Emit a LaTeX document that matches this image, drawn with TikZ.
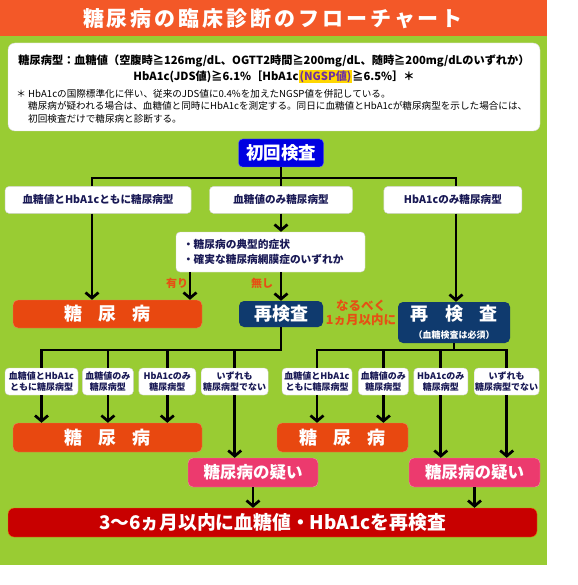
\documentclass[tikz,border=0pt]{standalone}
\usepackage{fontspec}
\setmainfont{Noto Sans CJK JP}
\usepackage{xcolor}
\usetikzlibrary{arrows.meta, positioning, calc}

\definecolor{headorange}{RGB}{243,88,40}
\definecolor{bggreen}{RGB}{153,204,51}
\definecolor{textnavy}{RGB}{25,25,85}
\definecolor{startblue}{RGB}{0,0,225}
\definecolor{dmorange}{RGB}{232,72,16}
\definecolor{renavy}{RGB}{15,58,110}
\definecolor{susppink}{RGB}{236,58,110}
\definecolor{bardred}{RGB}{200,0,0}
\definecolor{lblorange}{RGB}{230,80,20}
\definecolor{hiyellow}{RGB}{255,215,0}
\definecolor{ngsppurple}{RGB}{112,48,160}

\newcommand{\setfs}[2]{\fontsize{#1}{#2}\selectfont}

\begin{document}
\begin{tikzpicture}[
    x=1pt, y=-1pt,
    whitebox/.style={rectangle, draw=gray!35, fill=white, rounded corners=4pt, inner sep=0pt, text=textnavy, align=center, minimum height=27pt, font=\setfs{10.6}{13}\bfseries},
    smallbox/.style={whitebox, minimum height=27pt, font=\setfs{9}{11.2}\bfseries},
    startbox/.style={rectangle, draw=blue!60!white, fill=startblue, rounded corners=4pt, inner sep=0pt, text=white, minimum width=85pt, minimum height=28pt, font=\setfs{17.5}{20}\bfseries},
    dmbox/.style={rectangle, draw=dmorange!70!white, fill=dmorange, rounded corners=5pt, inner sep=0pt, text=white, minimum height=29pt, font=\setfs{18}{20}\bfseries},
    rebox/.style={rectangle, fill=renavy, rounded corners=5pt, inner sep=0pt, text=white, align=center, font=\setfs{18}{20}\bfseries},
    suspbox/.style={rectangle, draw=susppink!60!white, fill=susppink, rounded corners=5pt, inner sep=0pt, text=white, minimum height=29pt, font=\setfs{16.5}{19}\bfseries},
    barbox/.style={rectangle, draw=lblorange!80!yellow, fill=bardred, rounded corners=6pt, inner sep=0pt, text=white, minimum width=529pt, minimum height=29pt, font=\setfs{18.8}{20}\bfseries},
    lbl/.style={text=lblorange, inner sep=0pt, align=center, font=\setfs{11}{13.5}\bfseries},
    line/.style={draw=black, line width=2.7pt},
    arr/.style={line, -{Straight Barb[length=5.5pt, width=13pt, line width=2.7pt]}}
]
    \useasboundingbox (0,0) rectangle (577,585);

    % Background and title
    \fill[bggreen] (0,36) rectangle (547,565);
    \fill[headorange] (0,0) rectangle (547,36);
    \node[text=white, font={\setfs{21}{24}\bfseries\addfontfeature{LetterSpace=14}}] (title) at (273,19) {糖尿病の臨床診断のフローチャート};

    % Definition box
    \node[rectangle, fill=white, draw=gray!30, rounded corners=7pt, minimum width=532pt, minimum height=88pt] (defbox) at (274,87) {};
    \node[text=black, align=center, font=\setfs{11.2}{16}\bfseries] (deftext) at (274,69)
        {糖尿病型：血糖値（空腹時≧126mg/dL、OGTT2時間≧200mg/dL、随時≧200mg/dLのいずれか）\\
         HbA1c(JDS値)≧6.1\%［HbA1c{\fboxsep=1pt\colorbox{hiyellow}{\textcolor{ngsppurple}{(NGSP値)}}}≧6.5\%］＊};
    \node[text=black, align=left, anchor=north west, inner sep=0pt, font=\setfs{9.6}{12.5}] (notes) at (28,89)
        {\llap{＊\ }HbA1cの国際標準化に伴い、従来のJDS値に0.4\%を加えたNGSP値を併記している。\\
         糖尿病が疑われる場合は、血糖値と同時にHbA1cを測定する。同日に血糖値とHbA1cが糖尿病型を示した場合には、\\
         初回検査だけで糖尿病と診断する。};

    % First test and its results
    \node[startbox] (first) at (281,153) {初回検査};
    \node[whitebox, minimum width=143pt, below=19pt of first] (only) {血糖値のみ糖尿病型};
    \node[whitebox, minimum width=186pt, left=18pt of only] (both) {血糖値とHbA1cともに糖尿病型};
    \node[whitebox, minimum width=138pt, right=31pt of only] (hba) {HbA1cのみ糖尿病型};
    \node[whitebox, align=left, minimum width=189pt, minimum height=40pt, text width=175pt, font=\setfs{10.7}{15}\bfseries] (sym) at (270.5,252)
        {・糖尿病の典型的症状\\・確実な糖尿病網膜症のいずれか};

    \node[dmbox, minimum width=189pt, minimum height=28pt] (dm1) at (107.5,314) {糖\hspace{16pt}尿\hspace{16pt}病};
    \node[rebox, minimum width=84pt, minimum height=26pt] (re1) at (281,314) {再検査};
    \node[lbl, font=\setfs{12.5}{14}\bfseries] (soon) at (361,313) {なるべく\\1ヵ月以内に};
    \node[rebox, minimum width=112pt, minimum height=41pt, font=\setfs{18}{19}\bfseries] (re2) at (454,322.5)
        {再\hspace{17pt}検\hspace{17pt}査\\[-1pt]{\setfs{9}{10}（血糖検査は必須）}};
    \node[lbl] (yes) at (177,283) {有り};
    \node[lbl] (no) at (262,283) {無し};

    % Second test results
    \node[smallbox, minimum width=73pt] (s1) at (41.5,381.5) {血糖値とHbA1c\\ともに糖尿病型};
    \node[smallbox, minimum width=51pt, right=4pt of s1] (s2) {血糖値のみ\\糖尿病型};
    \node[smallbox, minimum width=57pt, right=5pt of s2] (s3) {HbA1cのみ\\糖尿病型};
    \node[smallbox, minimum width=67pt, right=5pt of s3] (s4) {いずれも\\糖尿病型でない};
    \node[smallbox, minimum width=70pt] (s5) at (317,381.5) {血糖値とHbA1c\\ともに糖尿病型};
    \node[smallbox, minimum width=50pt, right=6pt of s5] (s6) {血糖値のみ\\糖尿病型};
    \node[smallbox, minimum width=54pt, right=5pt of s6] (s7) {HbA1cのみ\\糖尿病型};
    \node[smallbox, minimum width=65pt, right=6pt of s7] (s8) {いずれも\\糖尿病型でない};

    \node[dmbox, minimum width=189pt] (dm2) at (107.5,437.5) {糖\hspace{16pt}尿\hspace{16pt}病};
    \node[dmbox, minimum width=131pt] (dm3) at (342.5,437.5) {糖\hspace{16pt}尿\hspace{16pt}病};
    \node[suspbox, minimum width=130pt] (dd1) at (253,472.5) {糖尿病の疑い};
    \node[suspbox, minimum width=131pt] (dd2) at (474.5,472.5) {糖尿病の疑い};
    \node[barbox] (bar) at (272.5,522.5) {3〜6ヵ月以内に血糖値・HbA1cを再検査};

    % Connectors
    \coordinate (busL) at (92,178);
    \coordinate (busR) at (456,178);
    \coordinate (lowbus) at (0,350);
    \coordinate (yesx) at (190,0);
    \draw[line] (first) -- (only);
    \draw[line] (busL |- both.north) -- (busL) -- (busR) -- (busR |- hba.north);
    \draw[arr] (busL |- both.south) -- (busL |- dm1.north);
    \draw[arr] (busR |- hba.south) -- (busR |- re2.north);
    \draw[arr] (only.south) -- (only.south |- sym.north);
    \draw[arr] (yesx |- sym.south) -- (yesx |- dm1.north);
    \draw[arr] (re1.north |- sym.south) -- (re1.north);

    \draw[line] (re1) -- (re1 |- lowbus) -- (s1 |- lowbus) -- (s1);
    \foreach \n in {s2,s3,s4}
        \draw[line] (\n |- lowbus) -- (\n);
    \draw[line] (s5) -- (s5 |- lowbus) -- (s8 |- lowbus) -- (s8);
    \foreach \n in {re2,s6,s7}
        \draw[line] (\n |- lowbus) -- (\n);

    \foreach \n in {s1,s2,s3}
        \draw[arr] (\n) -- (\n |- dm2.north);
    \foreach \n in {s5,s6}
        \draw[arr] (\n) -- (\n |- dm3.north);
    \draw[arr] (s4) -- (s4 |- dd1.north);
    \foreach \n in {s7,s8}
        \draw[arr] (\n) -- (\n |- dd2.north);
    \draw[arr] (dd1) -- (dd1 |- bar.north);
    \draw[arr] (dd2) -- (dd2 |- bar.north);
\end{tikzpicture}
\end{document}
